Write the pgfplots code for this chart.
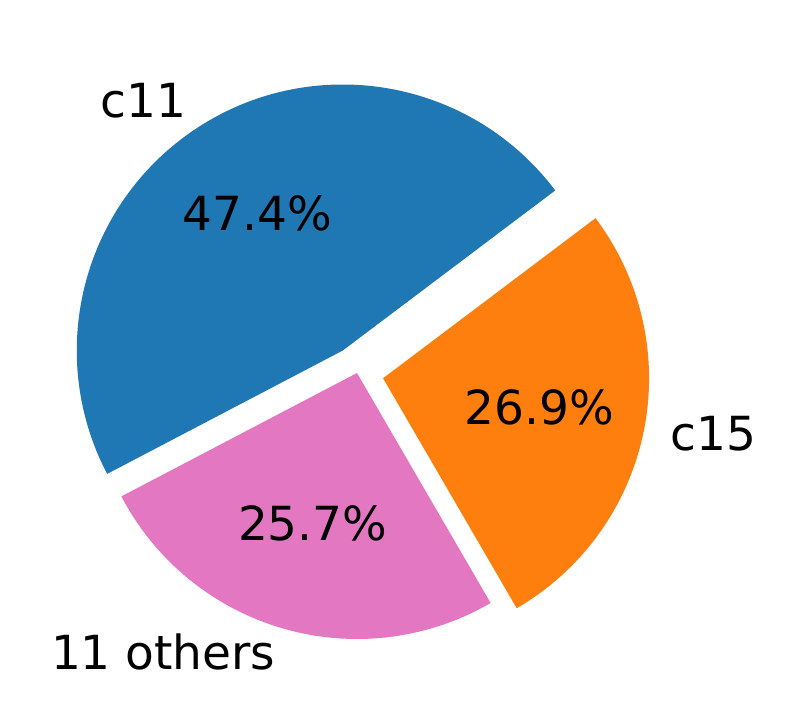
\documentclass[border=0pt]{standalone}
\usepackage{pgfplots}
\pgfplotsset{compat=1.18}
\usetikzlibrary{calc}
\usepackage{fontspec}
\setmainfont{DejaVu Sans}

\definecolor{tabblue}{HTML}{1F77B4}
\definecolor{taborange}{HTML}{FF7F0E}
\definecolor{tabpink}{HTML}{E377C2}

% shares in percent, counter-clockwise from 37 deg
\pgfmathsetmacro{\aA}{37}
\pgfmathsetmacro{\aB}{\aA+3.6*47.4}
\pgfmathsetmacro{\aC}{\aB+3.6*25.7}
\pgfmathsetmacro{\aD}{\aC+3.6*26.9}
\pgfmathsetmacro{\mA}{(\aA+\aB)/2}
\pgfmathsetmacro{\mB}{(\aB+\aC)/2}
\pgfmathsetmacro{\mC}{(\aC+\aD)/2}

\begin{document}
\begin{tikzpicture}
  \begin{axis}[
    width=394pt, height=359.5pt,
    scale only axis,
    xmin=0, xmax=788, ymin=0, ymax=719,
    hide axis, clip=false,
  ]
  \path (axis cs:0,0) rectangle (axis cs:788,719);
  \coordinate (O) at (axis cs:357,346);
  %% c11, exploded 0.1
  \coordinate (A) at ($(O)+(\mA:13.3pt)$);
  \fill[tabblue] (A) -- ++(\aA:133pt) arc[start angle=\aA, end angle=\aB, radius=133pt] -- cycle;
  %% 11 others, not exploded
  \coordinate (B) at (O);
  \fill[tabpink] (B) -- ++(\aB:133pt) arc[start angle=\aB, end angle=\aC, radius=133pt] -- cycle;
  %% c15, exploded 0.1
  \coordinate (C) at ($(O)+(\mC:13.3pt)$);
  \fill[taborange] (C) -- ++(\aC:133pt) arc[start angle=\aC, end angle=\aD, radius=133pt] -- cycle;

  \begin{scope}[every node/.style={inner sep=0pt, yshift=1.3pt, font=\fontsize{23.5}{28}\selectfont}]
    \node[anchor=east] at ($(A)+(\mA:146.3pt)$) {c11};
    \node[anchor=east] at ($(B)+(\mB:146.3pt)$) {11 others};
    \node[anchor=west] at ($(C)+(\mC:146.3pt)$) {c15};
    \node at ($(A)+(\mA:79.8pt)$) {47.4\%};
    \node at ($(B)+(\mB:79.8pt)$) {25.7\%};
    \node at ($(C)+(\mC:79.8pt)$) {26.9\%};
  \end{scope}
  \end{axis}
\end{tikzpicture}
\end{document}
